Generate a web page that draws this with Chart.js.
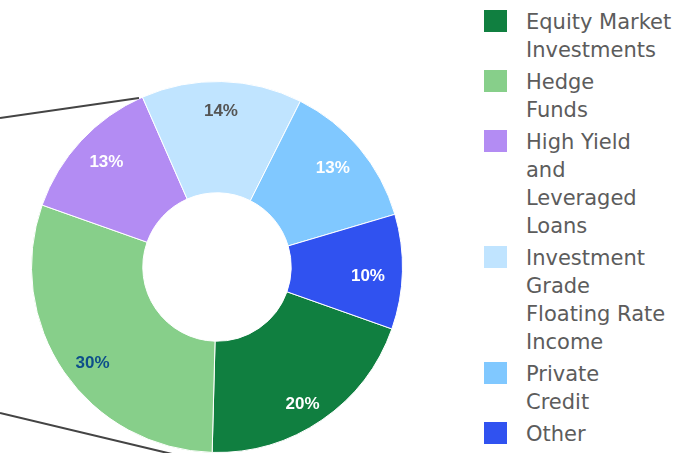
<!DOCTYPE html>
<html>
<head>
<meta charset="utf-8">
<script src="https://cdn.jsdelivr.net/npm/chart.js@4.4.0/dist/chart.umd.min.js"></script>
<style>
  html, body { margin: 0; padding: 0; background: #fff; overflow: hidden; }
  #wrap { position: absolute; left: 0; top: 0; width: 434px; height: 534px; }
  #legend { position: absolute; left: 484px; top: 8px; font-family: "DejaVu Sans", sans-serif; font-size: 21px; color: #5c5c5c; }
  .item { position: relative; padding-left: 42px; line-height: 28px; margin-bottom: 4px; white-space: nowrap; }
  .box { position: absolute; left: 0; top: 2px; width: 23px; height: 22px; }
</style>
</head>
<body>
<div id="wrap"><canvas id="pie"></canvas></div>
<div id="legend"></div>
<script>
// categories (split into lines the way the legend wraps them)
const categories = [
  ["Equity Market", "Investments"],
  ["Hedge", "Funds"],
  ["High Yield", "and", "Leveraged", "Loans"],
  ["Investment", "Grade", "Floating Rate", "Income"],
  ["Private", "Credit"],
  ["Other"]
];
const shares = [20, 30, 13, 14, 13, 10];

const sliceColors = ["#107f40", "#87cf8a", "#b38cf3", "#c0e4ff", "#80c8ff", "#3052f0"];
const labelColors = ["#ffffff", "#0d4e8a", "#ffffff", "#555555", "#ffffff", "#ffffff"];

// percent labels inside each slice
const sliceLabels = {
  id: "sliceLabels",
  afterDatasetsDraw(chart) {
    const c = chart.ctx;
    const meta = chart.getDatasetMeta(0);
    const data = chart.data.datasets[0].data;
    const total = data.reduce((a, b) => a + b, 0);
    c.save();
    c.font = "bold 17px 'Liberation Sans', Arial, sans-serif";
    c.textAlign = "center";
    c.textBaseline = "middle";
    meta.data.forEach((arc, i) => {
      const p = arc.getProps(["x", "y", "startAngle", "endAngle", "innerRadius", "outerRadius"], true);
      const mid = (p.startAngle + p.endAngle) / 2;
      const ring = p.outerRadius - p.innerRadius;
      const rx = p.innerRadius + 0.69 * ring;
      const ry = p.innerRadius + 0.78 * ring;
      c.fillStyle = labelColors[i];
      c.fillText(Math.round(data[i] / total * 100) + "%", p.x + Math.cos(mid) * rx, p.y + Math.sin(mid) * ry + 5);
    });
    c.restore();
  }
};

// the two callout lines on the left
const calloutLines = {
  id: "calloutLines",
  afterDraw(chart) {
    const c = chart.ctx;
    c.save();
    c.strokeStyle = "#444";
    c.lineWidth = 2;
    c.beginPath();
    c.moveTo(0, 118);
    c.lineTo(139, 98);
    c.moveTo(0, 413);
    c.lineTo(172, 454);
    c.stroke();
    c.restore();
  }
};

const chart = new Chart(document.getElementById("pie"), {
  type: "doughnut",
  data: {
    labels: categories,
    datasets: [{
      data: shares,
      backgroundColor: sliceColors,
      borderColor: "#ffffff",
      borderWidth: 1
    }]
  },
  options: {
    responsive: true,
    maintainAspectRatio: false,
    animation: false,
    rotation: 109.5,
    cutout: "40%",
    layout: { padding: { left: 31, right: 31, top: 81, bottom: 81 } },
    plugins: { legend: { display: false }, tooltip: { enabled: false } }
  },
  plugins: [sliceLabels, calloutLines]
});

// html legend built from the chart data
const legendEl = document.getElementById("legend");
chart.data.labels.forEach((lines, i) => {
  const item = document.createElement("div");
  item.className = "item";
  const box = document.createElement("span");
  box.className = "box";
  box.style.background = sliceColors[i];
  item.appendChild(box);
  item.insertAdjacentHTML("beforeend", lines.join("<br>"));
  legendEl.appendChild(item);
});
</script>
</body>
</html>
